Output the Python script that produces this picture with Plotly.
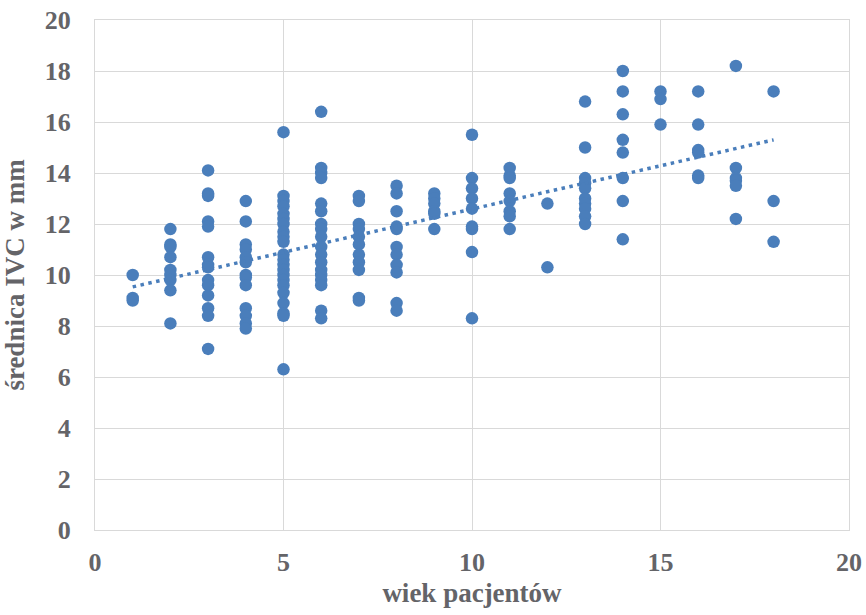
import numpy as np
import plotly.graph_objects as go

# age (years) -> list of IVC diameters (mm)
ages = [1, 2, 3, 4, 5, 6, 7, 8, 9, 10, 11, 12, 13, 14, 15, 16, 17, 18]
ivc_1 = [10.0, 9.1, 9.0]
ivc_2 = [11.8, 11.2, 11.1, 10.7, 10.2, 10.0, 9.8, 9.4, 8.1]
ivc_3 = [14.1, 13.2, 13.1, 12.1, 11.9, 10.7, 10.4, 10.3, 9.8, 9.6, 9.2, 8.7, 8.4, 7.1]
ivc_4 = [12.9, 12.1, 11.2, 11.0, 10.7, 10.5, 10.0, 9.9, 9.6, 8.7, 8.4, 8.1, 7.9]
ivc_5 = [15.6, 13.1, 12.9, 12.7, 12.4, 12.2, 12.0, 11.7, 11.5, 11.3, 10.8, 10.6,
         10.4, 10.2, 10.0, 9.8, 9.6, 9.3, 8.9, 8.5, 8.4, 6.3]
ivc_6 = [16.4, 14.2, 14.0, 13.8, 12.8, 12.5, 12.0, 11.8, 11.5, 11.1, 10.8, 10.5,
         10.2, 10.0, 9.8, 9.6, 8.6, 8.3]
ivc_7 = [13.1, 12.9, 12.0, 11.8, 11.5, 11.2, 10.8, 10.5, 10.2, 9.1, 9.0]
ivc_8 = [13.5, 13.2, 12.5, 11.9, 11.8, 11.1, 10.8, 10.4, 10.1, 8.9, 8.6]
ivc_9 = [13.2, 13.0, 12.8, 12.5, 12.4, 11.8]
ivc_10 = [15.5, 13.8, 13.4, 13.0, 12.6, 11.9, 11.8, 10.9, 8.3]
ivc_11 = [14.2, 13.9, 13.8, 13.2, 12.9, 12.5, 12.3, 11.8]
ivc_12 = [12.8, 10.3]
ivc_13 = [16.8, 15.0, 13.8, 13.6, 13.4, 13.0, 12.8, 12.6, 12.3, 12.0]
ivc_14 = [18.0, 17.2, 16.3, 15.3, 14.8, 13.8, 12.9, 11.4]
ivc_15 = [17.2, 16.9, 15.9]
ivc_16 = [17.2, 15.9, 14.9, 14.8, 13.9, 13.8]
ivc_17 = [18.2, 14.2, 13.8, 13.7, 13.5, 12.2]
ivc_18 = [17.2, 12.9, 11.3]

groups = [ivc_1, ivc_2, ivc_3, ivc_4, ivc_5, ivc_6, ivc_7, ivc_8, ivc_9,
          ivc_10, ivc_11, ivc_12, ivc_13, ivc_14, ivc_15, ivc_16, ivc_17, ivc_18]

xs, ys = [], []
for a, g in zip(ages, groups):
    xs += [a] * len(g)
    ys += g

slope, intercept = np.polyfit(xs, ys, 1)
tx = [min(xs), max(xs)]
ty = [intercept + slope * v for v in tx]

blue = "#4A7EBB"
text_gray = "#646468"
grid = "#d9d9d9"
font_family = "Liberation Serif"

fig = go.Figure()
fig.add_trace(go.Scatter(x=xs, y=ys, mode="markers",
                         marker=dict(color=blue, size=12.5, line=dict(width=0)),
                         showlegend=False, hoverinfo="x+y"))
fig.add_trace(go.Scatter(x=tx, y=ty, mode="lines",
                         line=dict(color=blue, width=3.5, dash="3.5px,4.5px"),
                         showlegend=False, hoverinfo="skip"))

fig.update_layout(
    width=866, height=615,
    margin=dict(l=95, r=17, t=20, b=85),
    paper_bgcolor="white", plot_bgcolor="white",
    font=dict(family=font_family, color=text_gray),
)
fig.update_xaxes(
    range=[0, 20], dtick=5, tick0=0, automargin=False,
    showgrid=True, gridcolor=grid, gridwidth=1,
    showline=True, linecolor=grid, linewidth=1, mirror=True,
    zeroline=False, ticks="", ticklabelstandoff=9,
    tickfont=dict(size=26, family=font_family, color=text_gray, weight="bold"),
    title=dict(text="wiek pacjentów", standoff=6,
               font=dict(size=27, family=font_family, color=text_gray, weight="bold")),
)
fig.update_yaxes(
    range=[0, 20], dtick=2, tick0=0, automargin=False,
    showgrid=True, gridcolor=grid, gridwidth=1,
    showline=True, linecolor=grid, linewidth=1, mirror=True,
    zeroline=False, ticks="", ticklabelstandoff=18,
    tickfont=dict(size=26, family=font_family, color=text_gray, weight="bold"),
    title=dict(text="średnica IVC w mm", standoff=16,
               font=dict(size=27, family=font_family, color=text_gray, weight="bold")),
)

fig.write_html("out.html")
